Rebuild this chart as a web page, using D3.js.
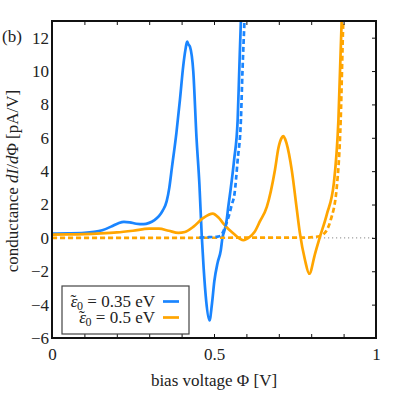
<!DOCTYPE html>
<html>
<head>
<meta charset="utf-8">
<script src="https://cdn.jsdelivr.net/npm/d3@7"></script>
<style>
  body { margin: 0; background: #fff; }
  text { font-family: "Liberation Serif", "DejaVu Serif", serif; fill: #222; }
</style>
</head>
<body>
<div id="chart"></div>
<script>
// bias voltage (V) / conductance (pA/V)
var blueSolidPhi = [0, 0.05, 0.1, 0.13, 0.155, 0.185, 0.205, 0.222, 0.24, 0.26, 0.283, 0.3, 0.315, 0.33, 0.342, 0.354, 0.362, 0.37, 0.384, 0.395, 0.405, 0.412, 0.417, 0.421, 0.426, 0.436, 0.446, 0.455, 0.462, 0.468, 0.476, 0.486, 0.494, 0.501, 0.511, 0.521, 0.526, 0.534, 0.539, 0.544, 0.551, 0.562, 0.573, 0.578, 0.583, 0.588];
var blueSolidG   = [0.26, 0.27, 0.3, 0.36, 0.46, 0.7, 0.88, 0.96, 0.93, 0.85, 0.82, 0.9, 1.05, 1.3, 1.65, 2.2, 3.0, 4.2, 6.3, 8.3, 10.3, 11.3, 11.76, 11.6, 11.45, 10.0, 6.0, 3.2, 0.2, -1.8, -3.8, -4.95, -3.9, -2.6, -1.5, -0.74, 0.0, 0.56, 1.06, 1.86, 2.86, 4.66, 7.06, 10.06, 13.0, 15.0];

var blueDashPhi = [0.455, 0.48, 0.5, 0.512, 0.52, 0.528, 0.536, 0.544, 0.555, 0.563, 0.573, 0.583, 0.588, 0.594, 0.598];
var blueDashG   = [0.02, 0.04, 0.06, 0.08, 0.12, 0.36, 0.75, 1.2, 2.0, 2.6, 4.66, 7.06, 10.06, 13.0, 15.0];

var orangeSolidPhi = [0, 0.05, 0.1, 0.15, 0.2, 0.25, 0.3, 0.33, 0.36, 0.39, 0.41, 0.436, 0.467, 0.496, 0.515, 0.529, 0.56, 0.591, 0.61, 0.625, 0.642, 0.663, 0.688, 0.699, 0.709, 0.714, 0.719, 0.724, 0.74, 0.755, 0.765, 0.781, 0.794, 0.812, 0.826, 0.848, 0.87, 0.884, 0.894, 0.9];
var orangeSolidG   = [0.2, 0.21, 0.23, 0.27, 0.33, 0.43, 0.55, 0.55, 0.43, 0.3, 0.35, 0.66, 1.2, 1.46, 1.2, 0.86, 0.26, -0.14, 0.05, 0.35, 1.0, 1.86, 4.06, 5.4, 6.0, 6.1, 5.95, 5.66, 4.06, 1.8, 0.3, -1.34, -2.15, -0.94, 0.0, 1.4, 3.3, 7.06, 13.0, 15.0];

var orangeDashPhi = [0, 0.79, 0.81, 0.825, 0.837, 0.848, 0.86, 0.879, 0.891, 0.899, 0.903];
var orangeDashG   = [0, 0.02, 0.06, 0.1, 0.2, 0.46, 1.06, 3.06, 7.06, 13.0, 15.0];

var xTicks = [0, 0.1, 0.2, 0.3, 0.4, 0.5, 0.6, 0.7, 0.8, 0.9, 1];
var xLabels = [0, 0.5, 1];
var yTicks = [-6, -4, -2, 0, 2, 4, 6, 8, 10, 12];

var legendNames = ["0.35 eV", "0.5 eV"];
var blue = "#1a85ff", orange = "#ffa500";

var width = 407, height = 393;
var margin = {top: 21, right: 31, bottom: 55, left: 52};

var svg = d3.select("#chart").append("svg")
    .attr("width", width)
    .attr("height", height);

var x = d3.scaleLinear().domain([0, 1]).range([margin.left, width - margin.right]);
var y = d3.scaleLinear().domain([-6, 13]).range([height - margin.bottom, margin.top]);

function pairs(a, b) {
  return a.map(function(v, i) { return [v, b[i]]; });
}

svg.append("clipPath").attr("id", "plotclip")
  .append("rect")
  .attr("x", x(0)).attr("y", y(13))
  .attr("width", x(1) - x(0)).attr("height", y(-6) - y(13));

// zero line
svg.append("line")
   .attr("x1", x(0)).attr("x2", x(1))
   .attr("y1", y(0)).attr("y2", y(0))
   .attr("stroke", "#888")
   .attr("stroke-width", 1)
   .attr("stroke-dasharray", "1.2,2.8");

var line = d3.line()
    .x(function(d) { return x(d[0]); })
    .y(function(d) { return y(d[1]); })
    .curve(d3.curveMonotoneX);

var plot = svg.append("g").attr("clip-path", "url(#plotclip)");

function drawCurve(data, color, dashed) {
  plot.append("path")
      .datum(data)
      .attr("d", line)
      .attr("fill", "none")
      .attr("stroke", color)
      .attr("stroke-width", 2.7)
      .attr("stroke-linejoin", "round")
      .attr("stroke-dasharray", dashed ? "5,3" : null);
}

drawCurve(pairs(blueSolidPhi, blueSolidG), blue, false);
drawCurve(pairs(orangeSolidPhi, orangeSolidG), orange, false);
drawCurve(pairs(orangeDashPhi, orangeDashG), orange, true);
drawCurve(pairs(blueDashPhi, blueDashG), blue, true);

// axes
var fmtX = function(d) { return xLabels.indexOf(d) >= 0 ? String(d) : ""; };

svg.append("g")
   .attr("transform", "translate(0," + y(-6) + ")")
   .call(d3.axisBottom(x).tickValues(xTicks).tickSize(-4).tickPadding(10).tickFormat(fmtX))
   .call(customAxis);

svg.append("g")
   .attr("transform", "translate(0," + y(13) + ")")
   .call(d3.axisTop(x).tickValues(xTicks).tickSize(-4).tickFormat(""))
   .call(customAxis);

svg.append("g")
   .attr("transform", "translate(" + x(0) + ",0)")
   .call(d3.axisLeft(y).tickValues(yTicks).tickSize(0).tickPadding(3)
         .tickFormat(function(d) { return d < 0 ? "\u2212" + (-d) : d; }))
   .call(customAxis);

svg.append("g")
   .attr("transform", "translate(" + x(1) + ",0)")
   .call(d3.axisRight(y).tickValues(yTicks).tickSize(-4).tickFormat(""))
   .call(customAxis);

function customAxis(g) {
  g.select(".domain").remove();
  g.selectAll(".tick line").attr("stroke", "#111").attr("stroke-width", 1);
  g.selectAll(".tick text").attr("font-size", 17).attr("font-family", "Liberation Serif").attr("fill", "#222");
}

// frame
svg.append("rect")
   .attr("x", x(0)).attr("y", y(13))
   .attr("width", x(1) - x(0)).attr("height", y(-6) - y(13))
   .attr("fill", "none")
   .attr("stroke", "#111")
   .attr("stroke-width", 2);

// labels
svg.append("text")
   .attr("x", (x(0) + x(1)) / 2).attr("y", 386)
   .attr("text-anchor", "middle")
   .attr("font-size", 17)
   .text("bias voltage \u03A6 [V]");

var ylab = svg.append("text")
   .attr("transform", "translate(18," + 181 + ") rotate(-90)")
   .attr("text-anchor", "middle")
   .attr("font-size", 17);
ylab.append("tspan").text("conductance ");
ylab.append("tspan").attr("font-style", "italic").text("dI");
ylab.append("tspan").text("/");
ylab.append("tspan").attr("font-style", "italic").text("d");
ylab.append("tspan").text("\u03A6 [pA/V]");

svg.append("text")
   .attr("x", 2).attr("y", 42)
   .attr("font-size", 17)
   .text("(b)");

// legend
var leg = svg.append("g");
leg.append("rect")
   .attr("x", 62).attr("y", 286)
   .attr("width", 127).attr("height", 48)
   .attr("fill", "#fff")
   .attr("stroke", "#444")
   .attr("stroke-width", 1.2);

var legColors = [blue, orange];
legendNames.forEach(function(name, i) {
  var yy = 301.5 + i * 16;
  var t = leg.append("text")
     .attr("x", 155).attr("y", yy + 5.5)
     .attr("text-anchor", "end")
     .attr("font-size", 17);
  t.append("tspan").attr("font-style", "italic").text("\u03B5");
  t.append("tspan").attr("dx", -7).attr("dy", -1).text("\u02DC");
  t.append("tspan").attr("font-size", 12).attr("dx", 1).attr("dy", 4).text("0");
  t.append("tspan").attr("dy", -3).text(" = " + name);
  leg.append("line")
     .attr("x1", 163).attr("x2", 179)
     .attr("y1", yy).attr("y2", yy)
     .attr("stroke", legColors[i])
     .attr("stroke-width", 2.7);
});
</script>
</body>
</html>
